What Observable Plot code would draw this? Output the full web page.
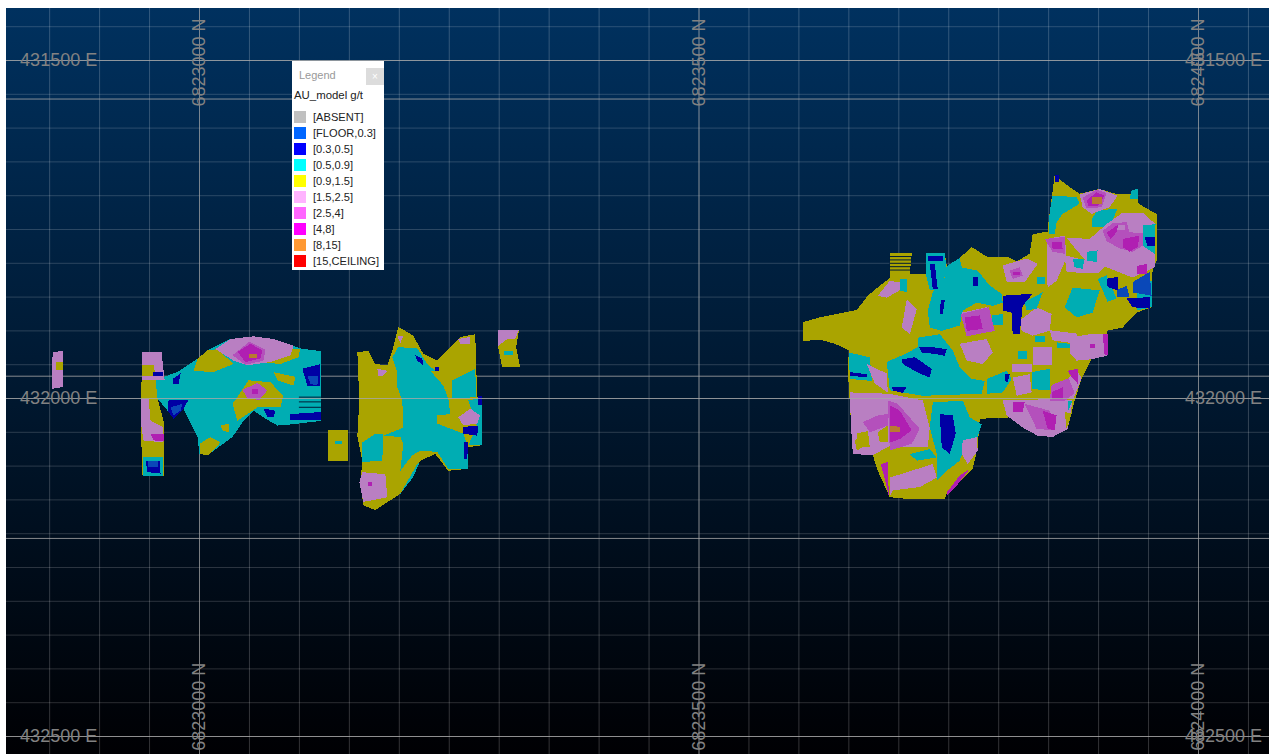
<!DOCTYPE html>
<html>
<head>
<meta charset="utf-8">
<script src="https://cdn.jsdelivr.net/npm/d3@7"></script>
<script src="https://cdn.jsdelivr.net/npm/@observablehq/plot@0.6"></script>
<style>
html,body{margin:0;padding:0;background:#fff;overflow:hidden}
#wrap{position:relative;width:1269px;height:754px;overflow:hidden}
#chart{position:absolute;left:6px;top:8px}
#legend{position:absolute;left:292px;top:61px;width:92px;height:209px;background:#fff;font-family:"Liberation Sans",Arial,sans-serif;color:#222}
#legend .t{position:absolute;left:7px;top:8px;font-size:11px;color:#999}
#legend .x{position:absolute;left:74px;top:7px;width:18px;height:17px;background:#dcdcdc;color:#fff;font-size:10px;text-align:center;line-height:17px}
#legend .h{position:absolute;left:2px;top:28px;font-size:11.4px;white-space:nowrap}
#legend .r{position:absolute;left:21px;font-size:11.1px;white-space:nowrap;line-height:12px}
#legend .s{position:absolute;left:1.5px;width:12px;height:12px}
</style>
</head>
<body>
<div id="wrap"><div id="chart"></div><div id="legend"></div></div>
<script>
// Coordinate origin of the polygon lists (metres north / east)
const originN = 6823000;
const originE = 432000;

const legendTitle = "AU_model g/t";
const gradeLabels = ["[ABSENT]","[FLOOR,0.3]","[0.3,0.5]","[0.5,0.9]","[0.9,1.5]","[1.5,2.5]","[2.5,4]","[4,8]","[8,15]","[15,CEILING]"];
const legendColors = ["#c0c0c0","#0066ff","#0000ff","#00ffff","#ffff00","#ffb3ff","#ff66ff","#ff00ff","#ff9933","#ff0000"];
const shadedColors = ["#808080","#0a48b8","#0000a4","#00adb3","#aaa400","#b97fc2","#b450bc","#b01fb2","#b97a30","#b00000"];

const northTicks = [6822850,6822900,6822950,6823000,6823050,6823100,6823150,6823200,6823250,6823300,6823350,6823400,6823450,6823500,6823550,6823600,6823650,6823700,6823750,6823800,6823850,6823900,6823950,6824000,6824050];
const eastTicks = [431450,431500,431550,431600,431650,431700,431750,431800,431850,431900,431950,432000,432050,432100,432150,432200,432250,432300,432350,432400,432450,432500];
const northMajor = [6823000,6823500,6824000];
const eastMajor = [431500,431557,431967,432207,432500];
const eastOnTop = [432000];

const eastLabels = [431500,432000,432500];
const labelNorthLeft = 6822859;
const labelNorthRight = 6824025;
const northLabels = [6823000,6823500,6824000];
const labelEastTop = 431503;
const labelEastBottom = 432456;

// Grade domains, traced as polygons "north,east" relative to the origin
const yellowBase = [
 "604,-113 621,-120 638,-125 658,-131 669,-152 681,-167 691,-178 691,-215 713,-215 711,-184 728,-184 727,-215 746,-215 748,-196 761,-208 773,-224 788,-210 808,-210 818,-203 831,-214 834,-243 849,-247 850,-263 856,-330 869,-315 881,-303 901,-310 919,-302 931,-302 939,-310 940,-288 958,-273 958,-204 954,-189 953,-135 938,-127 924,-105 908,-100 908,-63 893,-58 883,-29 876,3 869,45 854,57 841,55 824,43 811,28 781,30 779,72 774,104 748,141 746,149 711,149 691,146 679,107 674,84 654,82 651,8 649,-41 650,-71 636,-81 621,-87 604,-85",
 "158,-69 169,-70 176,-51 188,-49 193,-71 199,-106 214,-93 224,-66 238,-56 249,-73 261,-91 276,-95 278,-2 283,-2 283,69 269,72 269,104 249,107 236,82 221,92 201,141 176,165 164,158 161,124 163,92 158,55 160,3",
 "129,47 149,47 149,92 129,92",
 "299,-101 320,-102 317,-76 321,-46 303,-46 299,-76",
 "-58,-27 -44,-28 -42,0 -36,33 -36,114 -57,114 -59,33"
];
const cyanPatches = [
 "-44,-28 -22,-39 -2,-59 8,-71 31,-88 54,-92 74,-88 101,-74 122,-70 122,33 94,38 78,40 64,28 54,18 44,33 33,57 8,84 0,82 -2,57 -16,15 -26,30 -32,18 -42,0",
 "761,-208 748,-196 746,-179 734,-157 729,-130 731,-105 743,-100 761,-108 764,-130 778,-142 794,-137 804,-142 803,-155 791,-167 779,-189 763,-194",
 "719,-90 741,-95 754,-71 761,-46 773,-29 786,-26 783,-7 724,-4 691,-12 688,-54 708,-67 719,-76",
 "734,6 764,3 771,28 783,38 779,57 768,62 761,92 748,107 738,121 738,82 731,43",
 "788,-29 808,-41 813,-29 804,-9 788,-7",
 "833,-39 851,-44 851,-12 833,-14",
 "854,-300 878,-298 881,-288 864,-273 858,-261 856,-244 850,-244 851,-276",
 "899,-278 919,-281 911,-254 893,-254 894,-268",
 "650,-68 671,-61 673,-26 651,-29",
 "874,-164 901,-160 894,-127 878,-120 866,-135",
 "838,-179 846,-179 846,-169 838,-169",
 "939,-164 953,-174 953,-135 938,-130",
 "711,82 731,75 738,87 718,92",
 "654,60 663,57 664,80 655,80",
 "701,-177 708,-177 708,-157 701,-160",
 "793,-123 804,-125 804,-108 794,-108",
 "858,-83 871,-81 871,-74 858,-74",
 "727,-215 746,-215 748,-189 741,-160 731,-160 727,-184",
 "198,-39 231,-41 244,-19 249,0 251,23 238,25 238,37 264,52 269,72 269,104 249,104 238,79 221,77 213,84 201,107 204,67 201,57 184,55 204,43 203,3 198,-17",
 "163,65 176,52 184,52 183,92 163,94",
 "253,-27 276,-44 277,-2 253,0",
 "199,-76 218,-74 228,-51 236,-41 198,-39 193,-61",
 "269,3 283,-1 283,69 269,69 278,42",
 "201,141 218,97 221,92 214,116",
 "136,63 143,63 143,67 136,67",
 "305,-71 314,-71 314,-65 305,-65",
 "-57,87 -37,87 -37,114 -57,114",
 "-49,-59 -38,-59 -38,-55 -49,-55"
];
const yellowPatches = [
 "-2,-59 8,-71 18,-73 34,-51 14,-39 -6,-41",
 "71,-69 101,-74 99,-61 81,-51 58,-54",
 "41,-9 49,-27 71,-24 84,-4 81,13 58,13 51,20 38,33 33,8",
 "0,67 11,57 21,65 9,84 0,82",
 "21,40 30,37 29,50 23,47",
 "74,-39 96,-32 94,-19 78,-27"
];
const pinkPatches = [
 "651,-9 691,-7 724,3 731,43 729,72 711,72 691,70 674,84 654,82 652,38",
 "691,117 734,97 738,117 721,131 694,136 691,144",
 "761,-81 788,-88 794,-68 784,-51 768,-56",
 "708,-147 718,-132 711,-95 703,-105",
 "679,-152 691,-174 701,-172 701,-160 688,-149",
 "804,-197 828,-207 839,-199 826,-172 808,-172",
 "763,-127 788,-135 794,-100 768,-95",
 "821,-115 838,-135 853,-125 851,-100 834,-93 823,-100",
 "848,-236 866,-241 868,-209 858,-174 849,-164 848,-194",
 "868,-238 891,-236 908,-258 924,-275 944,-275 957,-258 956,-194 941,-184 934,-179 908,-194 891,-199 878,-219",
 "881,-302 901,-310 919,-300 911,-283 893,-273 884,-283",
 "871,-90 891,-95 908,-95 908,-63 893,-58 878,-56 871,-68",
 "834,-76 853,-76 853,-49 834,-49",
 "813,-51 833,-51 833,-39 813,-39",
 "804,3 851,1 874,3 869,45 854,57 839,55 824,43 808,25",
 "855,-15 879,-40 883,-30 875,0 851,1",
 "814,-31 831,-36 833,-9 818,-4",
 "764,62 778,57 779,77 769,97 763,82",
 "668,-51 688,-37 689,-9 676,-22",
 "851,-101 878,-96 878,-81 854,-86",
 "866,-212 908,-197 899,-185 868,-187",
 "16,-73 31,-88 54,-92 74,-88 94,-78 91,-64 71,-54 48,-49 34,-56",
 "46,-14 58,-22 68,-12 61,0 49,-2",
 "-147,-69 -137,-70 -137,-17 -148,-14",
 "-58,-69 -38,-69 -35,-28 -58,-28",
 "-59,0 -51,0 -49,33 -37,42 -36,65 -56,62 -59,33",
 "163,109 186,112 188,146 164,153 160,124",
 "259,28 271,15 281,25 278,37 264,40",
 "178,-44 188,-41 184,-34 179,-34",
 "259,-88 271,-91 271,-80 261,-80",
 "198,-93 204,-93 201,-82",
 "299,-101 320,-102 316,-88 308,-88 299,-78"
];
const orchidPatches = [
 "689,3 699,8 721,45 713,67 691,77",
 "664,35 679,25 689,23 689,40 671,50",
 "904,-248 914,-259 928,-261 931,-246 948,-244 944,-226 934,-217 921,-222 908,-233",
 "846,-236 866,-239 866,-214 854,-217",
 "884,-297 898,-309 908,-304 903,-283 888,-281",
 "811,-189 821,-194 824,-182 814,-177",
 "826,8 851,18 854,47 838,45",
 "762,-125 790,-135 796,-100 768,-92",
 "33,-64 50,-84 66,-72 64,-56 46,-50",
 "43,-13 58,-23 68,-12 60,2 48,0",
 "853,-20 870,-30 876,-8 866,4 851,4"
];
const pinkCores = ["918,-256 926,-256 926,-249 918,-249"];
const cyanOverPink = [
 "933,-308 939,-310 939,-295 931,-295",
 "874,-207 886,-207 884,-192 876,-194",
 "888,-217 899,-219 898,-202 888,-204",
 "944,-256 957,-258 956,-214 944,-226",
 "899,-177 908,-182 918,-148 909,-143",
 "836,-93 846,-92 846,-83 836,-83",
 "819,-71 828,-71 828,-59 819,-59",
 "826,-143 844,-157 838,-133 828,-130",
 "869,3 874,3 869,20"
];
const yellowOverPink = [
 "658,52 669,48 671,72 659,72",
 "656,62 664,55 666,70 658,77",
 "679,50 689,40 689,65 681,65",
 "866,20 873,22 868,45",
 "-144,-54 -137,-54 -137,-42 -144,-42",
 "-58,-50 -46,-50 -44,-34 -58,-34"
];
const magentaPatches = [
 "691,10 701,18 713,47 701,60 691,65",
 "766,-120 781,-123 784,-103 768,-100",
 "888,-293 898,-305 906,-300 899,-285 890,-285",
 "924,-236 941,-241 939,-224 931,-217 924,-224",
 "908,-245 920,-258 918,-246 912,-236",
 "853,-232 863,-232 864,-221 854,-221",
 "938,-196 948,-199 948,-184 939,-184",
 "814,5 826,5 824,20 814,20",
 "844,18 858,25 856,47 849,45",
 "853,-9 864,-17 864,0 853,0",
 "869,-41 879,-44 879,-22 873,-32",
 "682,97 689,94 690,144 688,131",
 "748,139 761,114 771,104 758,129 748,144",
 "814,-187 821,-187 821,-182 814,-182",
 "891,-81 896,-81 896,-74 891,-74",
 "904,-96 909,-96 909,-64 906,-64",
 "38,-69 51,-81 63,-71 61,-59 46,-54",
 "53,-14 59,-14 59,-7 53,-7",
 "-49,52 -36,52 -36,63 -46,62",
 "169,124 173,124 173,129 169,129"
];
const orangePatches = [
 "691,40 701,42 701,49 691,49",
 "893,-298 903,-298 903,-288 893,-288",
 "50,-66 58,-66 58,-60 50,-60"
];
const darkBluePatches = [
 "804,-152 834,-155 824,-137 821,-95 814,-95 813,-127 804,-130",
 "703,-58 716,-61 733,-44 731,-31 718,-39 704,-51",
 "720,-76 734,-76 748,-73 746,-63 736,-66 723,-68",
 "741,23 754,25 757,52 751,82 743,72",
 "908,-177 919,-180 919,-160 909,-165",
 "729,-211 744,-211 744,-204 729,-204",
 "731,-199 736,-199 739,-162 734,-162",
 "693,-17 708,-17 704,-8 694,-12",
 "946,-239 956,-239 956,-226 949,-226",
 "774,-179 779,-179 779,-167 774,-167",
 "651,-39 668,-36 668,-31 651,-34",
 "806,-36 811,-36 809,-24 806,-26",
 "742,-145 746,-145 744,-125 741,-125",
 "928,-148 951,-150 951,-133 934,-135",
 "856,-330 860,-330 860,-320 856,-320",
 "-31,3 -11,2 -16,15 -26,30 -32,18",
 "103,-44 121,-51 121,-19 108,-19",
 "64,15 76,18 74,28 68,28",
 "91,23 122,20 122,32 91,32",
 "-27,-29 -19,-37 -21,-22 -27,-21",
 "216,-64 223,-59 224,-49 218,-56",
 "264,42 279,40 278,55 264,52",
 "265,65 269,65 268,89 265,89",
 "279,-4 283,-4 283,10 279,10",
 "236,-46 240,-46 240,-41 236,-41",
 "-54,92 -40,92 -39,111 -52,109",
 "-47,-39 -37,-39 -37,-34 -47,-34"
];
const floorPatches = [
 "918,-160 928,-167 931,-150 919,-150",
 "934,-172 951,-187 953,-152 934,-157",
 "-29,13 -17,8 -19,18 -26,25",
 "108,-34 119,-34 118,-19 111,-22",
 "-52,93 -42,93 -41,101 -51,101"
];
// Unmodelled slots between the sections: [north from, north to, east]
const gapSlots = [
 [691,713,-210],[691,713,-205],[691,713,-200],[691,713,-195],[691,713,-190],
 [100,122,-2],[100,122,5],[100,122,13]
];

const layers = [
  [yellowBase,"[0.9,1.5]"],
  [cyanPatches,"[0.5,0.9]"],
  [yellowPatches,"[0.9,1.5]"],
  [pinkPatches,"[1.5,2.5]"],
  [orchidPatches,"[2.5,4]"],
  [pinkCores,"[1.5,2.5]"],
  [cyanOverPink,"[0.5,0.9]"],
  [yellowOverPink,"[0.9,1.5]"],
  [magentaPatches,"[4,8]"],
  [orangePatches,"[8,15]"],
  [darkBluePatches,"[0.3,0.5]"],
  [floorPatches,"[FLOOR,0.3]"]
];
const vertices = [];
let polyId = 0;
for (const [polys, grade] of layers) {
  for (const p of polys) {
    polyId++;
    for (const pair of p.split(" ")) {
      const [n, e] = pair.split(",").map(Number);
      vertices.push({id: polyId, north: originN + n, east: originE + e, grade});
    }
  }
}

const minorStroke = "#ffffff", labelColor = "#828282";
const chart = Plot.plot({
  width: 1263, height: 746,
  marginTop: 0, marginRight: 0, marginBottom: 0, marginLeft: 0,
  x: {domain: [6823000, 6824000], range: [193, 1192], axis: null},
  y: {domain: [431500, 432500], range: [52, 728], axis: null},
  color: {type: "ordinal", domain: gradeLabels, range: shadedColors},
  style: {background: "linear-gradient(#00315f,#000003)", fontFamily: "'Liberation Sans',Arial,sans-serif"},
  marks: [
    Plot.ruleX(northTicks, {stroke: minorStroke, strokeOpacity: 0.2}),
    Plot.ruleY(eastTicks, {stroke: minorStroke, strokeOpacity: 0.17}),
    Plot.ruleX(northMajor, {stroke: "#a0a0a0", strokeOpacity: 0.65}),
    Plot.ruleY(eastMajor, {stroke: "#a8a8a8", strokeOpacity: 0.8}),
    Plot.line(vertices, {x: "north", y: "east", z: "id", fill: "grade", stroke: "none", curve: "linear", shapeRendering: "crispEdges"}),
    Plot.ruleY(gapSlots, {x1: d => originN + d[0], x2: d => originN + d[1], y: d => originE + d[2], stroke: "#001a36", strokeWidth: 1}),
    Plot.ruleY(eastOnTop, {stroke: "#a8a8a8", strokeOpacity: 0.8}),
    Plot.text(eastLabels, {x: () => labelNorthLeft, y: d => d, text: d => d + " E", fill: labelColor, fontSize: 18, textAnchor: "middle"}),
    Plot.text(eastLabels, {x: () => labelNorthRight, y: d => d, text: d => d + " E", fill: labelColor, fontSize: 18, textAnchor: "middle"}),
    Plot.text(northLabels, {x: d => d, y: () => labelEastTop, text: d => d + " N", fill: labelColor, fontSize: 18, rotate: -90, textAnchor: "middle"}),
    Plot.text(northLabels, {x: d => d, y: () => labelEastBottom, text: d => d + " N", fill: labelColor, fontSize: 18, rotate: -90, textAnchor: "middle"})
  ]
});
document.getElementById("chart").appendChild(chart);

const lg = document.getElementById("legend");
let html = '<div class="t">Legend</div><div class="x">×</div><div class="h">' + legendTitle + '</div>';
gradeLabels.forEach((g, i) => {
  const top = 50 + i * 16;
  html += '<div class="s" style="top:' + top + 'px;background:' + legendColors[i] + '"></div><div class="r" style="top:' + top + 'px">' + g + '</div>';
});
lg.innerHTML = html;
</script>
</body>
</html>
